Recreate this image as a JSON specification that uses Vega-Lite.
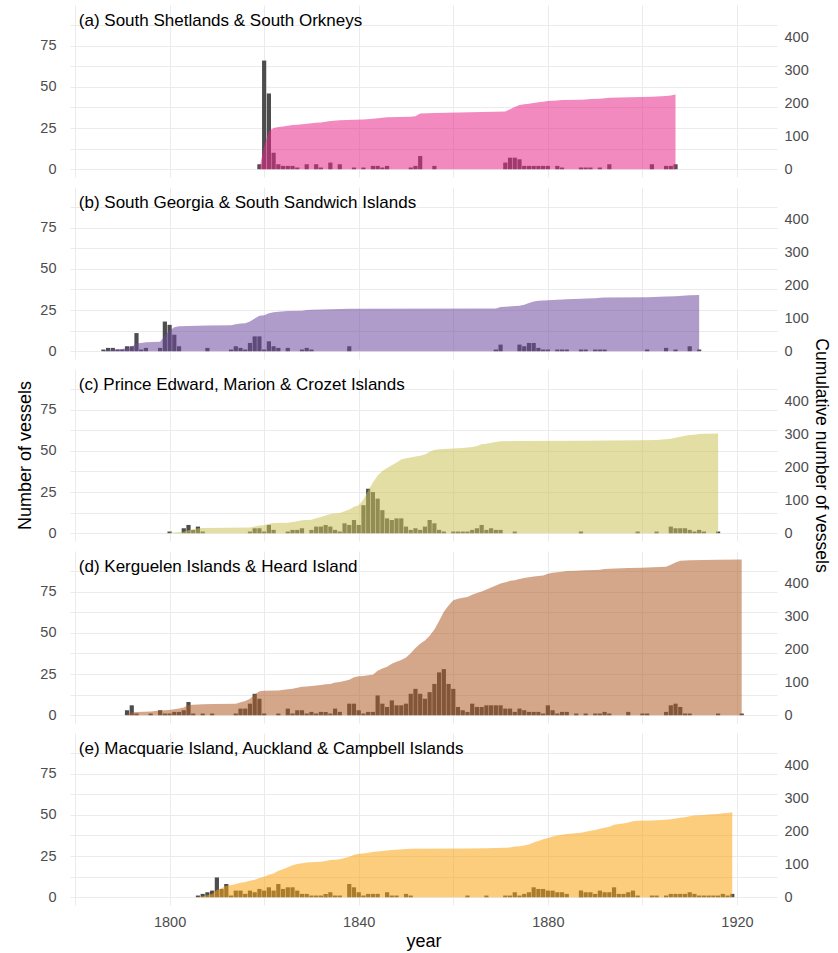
{
"$schema": "https://vega.github.io/schema/vega-lite/v6.json",
"background": "white",
"padding": {"left": 16, "top": 5, "right": 0, "bottom": 0},
"config": {
  "font": "Liberation Sans",
  "view": {"stroke": null},
  "axis": {"gridColor": "#EBEBEB", "gridWidth": 1, "domain": false, "ticks": false, "labelColor": "#4D4D4D", "labelFontSize": 14.5, "titleFontSize": 18, "titleFontWeight": "normal", "titleColor": "#000000", "labelOverlap": false, "labelFlush": false}
},
"datasets": {
"v": [
{"p":"a","year":1819,"n":3},{"p":"a","year":1820,"n":66},{"p":"a","year":1821,"n":46},{"p":"a","year":1822,"n":10},{"p":"a","year":1823,"n":3},{"p":"a","year":1824,"n":2},{"p":"a","year":1825,"n":2},{"p":"a","year":1826,"n":2},{"p":"a","year":1827,"n":1},{"p":"a","year":1829,"n":3},{"p":"a","year":1831,"n":3},{"p":"a","year":1832,"n":1},{"p":"a","year":1834,"n":4},{"p":"a","year":1836,"n":3},{"p":"a","year":1839,"n":1},{"p":"a","year":1841,"n":1},{"p":"a","year":1843,"n":2},{"p":"a","year":1844,"n":2},{"p":"a","year":1845,"n":1},{"p":"a","year":1846,"n":2},{"p":"a","year":1851,"n":1},{"p":"a","year":1852,"n":2},{"p":"a","year":1853,"n":8},{"p":"a","year":1856,"n":2},{"p":"a","year":1871,"n":4},{"p":"a","year":1872,"n":7},{"p":"a","year":1873,"n":7},{"p":"a","year":1874,"n":6},{"p":"a","year":1875,"n":2},{"p":"a","year":1876,"n":2},{"p":"a","year":1877,"n":2},{"p":"a","year":1878,"n":2},{"p":"a","year":1879,"n":2},{"p":"a","year":1880,"n":2},{"p":"a","year":1882,"n":2},{"p":"a","year":1883,"n":1},{"p":"a","year":1887,"n":1},{"p":"a","year":1888,"n":1},{"p":"a","year":1889,"n":1},{"p":"a","year":1891,"n":1},{"p":"a","year":1893,"n":3},{"p":"a","year":1902,"n":3},{"p":"a","year":1905,"n":2},{"p":"a","year":1906,"n":2},{"p":"a","year":1907,"n":3},
{"p":"b","year":1786,"n":1},{"p":"b","year":1787,"n":2},{"p":"b","year":1788,"n":2},{"p":"b","year":1789,"n":1},{"p":"b","year":1790,"n":1},{"p":"b","year":1791,"n":3},{"p":"b","year":1792,"n":3},{"p":"b","year":1793,"n":11},{"p":"b","year":1794,"n":1},{"p":"b","year":1795,"n":2},{"p":"b","year":1798,"n":2},{"p":"b","year":1799,"n":18},{"p":"b","year":1800,"n":16},{"p":"b","year":1801,"n":10},{"p":"b","year":1802,"n":3},{"p":"b","year":1808,"n":2},{"p":"b","year":1813,"n":1},{"p":"b","year":1814,"n":3},{"p":"b","year":1815,"n":2},{"p":"b","year":1816,"n":1},{"p":"b","year":1817,"n":5},{"p":"b","year":1818,"n":9},{"p":"b","year":1819,"n":9},{"p":"b","year":1820,"n":1},{"p":"b","year":1821,"n":6},{"p":"b","year":1822,"n":3},{"p":"b","year":1823,"n":2},{"p":"b","year":1825,"n":2},{"p":"b","year":1828,"n":1},{"p":"b","year":1829,"n":2},{"p":"b","year":1830,"n":1},{"p":"b","year":1838,"n":3},{"p":"b","year":1869,"n":1},{"p":"b","year":1870,"n":4},{"p":"b","year":1874,"n":4},{"p":"b","year":1875,"n":3},{"p":"b","year":1876,"n":5},{"p":"b","year":1877,"n":5},{"p":"b","year":1878,"n":2},{"p":"b","year":1879,"n":1},{"p":"b","year":1880,"n":1},{"p":"b","year":1882,"n":1},{"p":"b","year":1883,"n":1},{"p":"b","year":1884,"n":1},{"p":"b","year":1887,"n":1},{"p":"b","year":1888,"n":1},{"p":"b","year":1890,"n":1},{"p":"b","year":1891,"n":1},{"p":"b","year":1892,"n":1},{"p":"b","year":1901,"n":1},{"p":"b","year":1905,"n":2},{"p":"b","year":1907,"n":1},{"p":"b","year":1910,"n":3},{"p":"b","year":1912,"n":1},
{"p":"c","year":1800,"n":1},{"p":"c","year":1803,"n":3},{"p":"c","year":1804,"n":5},{"p":"c","year":1805,"n":2},{"p":"c","year":1806,"n":4},{"p":"c","year":1807,"n":1},{"p":"c","year":1817,"n":1},{"p":"c","year":1818,"n":3},{"p":"c","year":1819,"n":3},{"p":"c","year":1820,"n":1},{"p":"c","year":1821,"n":5},{"p":"c","year":1822,"n":2},{"p":"c","year":1825,"n":1},{"p":"c","year":1826,"n":2},{"p":"c","year":1827,"n":2},{"p":"c","year":1828,"n":3},{"p":"c","year":1830,"n":2},{"p":"c","year":1831,"n":4},{"p":"c","year":1832,"n":4},{"p":"c","year":1833,"n":5},{"p":"c","year":1834,"n":4},{"p":"c","year":1835,"n":2},{"p":"c","year":1836,"n":1},{"p":"c","year":1837,"n":6},{"p":"c","year":1838,"n":5},{"p":"c","year":1839,"n":8},{"p":"c","year":1840,"n":5},{"p":"c","year":1841,"n":17},{"p":"c","year":1842,"n":27},{"p":"c","year":1843,"n":25},{"p":"c","year":1844,"n":21},{"p":"c","year":1845,"n":14},{"p":"c","year":1846,"n":9},{"p":"c","year":1847,"n":8},{"p":"c","year":1848,"n":9},{"p":"c","year":1849,"n":9},{"p":"c","year":1850,"n":4},{"p":"c","year":1851,"n":2},{"p":"c","year":1852,"n":3},{"p":"c","year":1853,"n":2},{"p":"c","year":1854,"n":4},{"p":"c","year":1855,"n":8},{"p":"c","year":1856,"n":6},{"p":"c","year":1857,"n":2},{"p":"c","year":1858,"n":1},{"p":"c","year":1860,"n":1},{"p":"c","year":1861,"n":1},{"p":"c","year":1862,"n":1},{"p":"c","year":1863,"n":1},{"p":"c","year":1864,"n":2},{"p":"c","year":1865,"n":3},{"p":"c","year":1866,"n":5},{"p":"c","year":1867,"n":2},{"p":"c","year":1868,"n":3},{"p":"c","year":1869,"n":2},{"p":"c","year":1870,"n":2},{"p":"c","year":1873,"n":1},{"p":"c","year":1887,"n":1},{"p":"c","year":1899,"n":1},{"p":"c","year":1903,"n":1},{"p":"c","year":1906,"n":4},{"p":"c","year":1907,"n":3},{"p":"c","year":1908,"n":3},{"p":"c","year":1909,"n":3},{"p":"c","year":1910,"n":2},{"p":"c","year":1911,"n":1},{"p":"c","year":1912,"n":2},{"p":"c","year":1913,"n":1},{"p":"c","year":1916,"n":1},
{"p":"d","year":1791,"n":3},{"p":"d","year":1792,"n":6},{"p":"d","year":1793,"n":1},{"p":"d","year":1796,"n":1},{"p":"d","year":1798,"n":3},{"p":"d","year":1799,"n":1},{"p":"d","year":1800,"n":1},{"p":"d","year":1801,"n":2},{"p":"d","year":1802,"n":2},{"p":"d","year":1803,"n":3},{"p":"d","year":1804,"n":8},{"p":"d","year":1805,"n":1},{"p":"d","year":1807,"n":1},{"p":"d","year":1809,"n":1},{"p":"d","year":1814,"n":1},{"p":"d","year":1815,"n":4},{"p":"d","year":1816,"n":4},{"p":"d","year":1817,"n":7},{"p":"d","year":1818,"n":13},{"p":"d","year":1819,"n":10},{"p":"d","year":1820,"n":1},{"p":"d","year":1823,"n":1},{"p":"d","year":1825,"n":4},{"p":"d","year":1826,"n":1},{"p":"d","year":1827,"n":3},{"p":"d","year":1828,"n":3},{"p":"d","year":1829,"n":1},{"p":"d","year":1830,"n":2},{"p":"d","year":1831,"n":1},{"p":"d","year":1832,"n":2},{"p":"d","year":1833,"n":2},{"p":"d","year":1834,"n":1},{"p":"d","year":1835,"n":4},{"p":"d","year":1836,"n":2},{"p":"d","year":1838,"n":7},{"p":"d","year":1839,"n":7},{"p":"d","year":1840,"n":3},{"p":"d","year":1841,"n":1},{"p":"d","year":1842,"n":2},{"p":"d","year":1843,"n":2},{"p":"d","year":1844,"n":12},{"p":"d","year":1845,"n":7},{"p":"d","year":1846,"n":5},{"p":"d","year":1847,"n":9},{"p":"d","year":1848,"n":6},{"p":"d","year":1849,"n":6},{"p":"d","year":1850,"n":7},{"p":"d","year":1851,"n":13},{"p":"d","year":1852,"n":16},{"p":"d","year":1853,"n":13},{"p":"d","year":1854,"n":10},{"p":"d","year":1855,"n":14},{"p":"d","year":1856,"n":19},{"p":"d","year":1857,"n":26},{"p":"d","year":1858,"n":28},{"p":"d","year":1859,"n":19},{"p":"d","year":1860,"n":16},{"p":"d","year":1861,"n":5},{"p":"d","year":1862,"n":3},{"p":"d","year":1863,"n":2},{"p":"d","year":1864,"n":7},{"p":"d","year":1865,"n":5},{"p":"d","year":1866,"n":5},{"p":"d","year":1867,"n":6},{"p":"d","year":1868,"n":6},{"p":"d","year":1869,"n":6},{"p":"d","year":1870,"n":6},{"p":"d","year":1871,"n":4},{"p":"d","year":1872,"n":4},{"p":"d","year":1873,"n":2},{"p":"d","year":1874,"n":4},{"p":"d","year":1875,"n":3},{"p":"d","year":1876,"n":2},{"p":"d","year":1877,"n":2},{"p":"d","year":1878,"n":2},{"p":"d","year":1879,"n":1},{"p":"d","year":1880,"n":6},{"p":"d","year":1881,"n":3},{"p":"d","year":1882,"n":1},{"p":"d","year":1883,"n":2},{"p":"d","year":1884,"n":2},{"p":"d","year":1886,"n":1},{"p":"d","year":1888,"n":1},{"p":"d","year":1890,"n":1},{"p":"d","year":1891,"n":1},{"p":"d","year":1892,"n":2},{"p":"d","year":1893,"n":1},{"p":"d","year":1897,"n":2},{"p":"d","year":1900,"n":1},{"p":"d","year":1901,"n":1},{"p":"d","year":1905,"n":2},{"p":"d","year":1906,"n":6},{"p":"d","year":1907,"n":7},{"p":"d","year":1908,"n":5},{"p":"d","year":1909,"n":1},{"p":"d","year":1910,"n":1},{"p":"d","year":1916,"n":1},{"p":"d","year":1921,"n":1},
{"p":"e","year":1806,"n":1},{"p":"e","year":1807,"n":2},{"p":"e","year":1808,"n":3},{"p":"e","year":1809,"n":4},{"p":"e","year":1810,"n":12},{"p":"e","year":1811,"n":5},{"p":"e","year":1812,"n":8},{"p":"e","year":1813,"n":1},{"p":"e","year":1814,"n":4},{"p":"e","year":1815,"n":4},{"p":"e","year":1816,"n":2},{"p":"e","year":1817,"n":4},{"p":"e","year":1818,"n":3},{"p":"e","year":1819,"n":5},{"p":"e","year":1820,"n":4},{"p":"e","year":1821,"n":6},{"p":"e","year":1822,"n":4},{"p":"e","year":1823,"n":8},{"p":"e","year":1824,"n":5},{"p":"e","year":1825,"n":6},{"p":"e","year":1826,"n":6},{"p":"e","year":1827,"n":4},{"p":"e","year":1828,"n":2},{"p":"e","year":1829,"n":2},{"p":"e","year":1830,"n":1},{"p":"e","year":1831,"n":1},{"p":"e","year":1832,"n":1},{"p":"e","year":1833,"n":2},{"p":"e","year":1834,"n":3},{"p":"e","year":1835,"n":1},{"p":"e","year":1836,"n":1},{"p":"e","year":1838,"n":8},{"p":"e","year":1839,"n":6},{"p":"e","year":1840,"n":3},{"p":"e","year":1841,"n":1},{"p":"e","year":1842,"n":2},{"p":"e","year":1843,"n":2},{"p":"e","year":1844,"n":2},{"p":"e","year":1846,"n":3},{"p":"e","year":1847,"n":1},{"p":"e","year":1848,"n":1},{"p":"e","year":1850,"n":2},{"p":"e","year":1851,"n":1},{"p":"e","year":1863,"n":1},{"p":"e","year":1867,"n":1},{"p":"e","year":1871,"n":1},{"p":"e","year":1872,"n":1},{"p":"e","year":1873,"n":3},{"p":"e","year":1874,"n":1},{"p":"e","year":1875,"n":2},{"p":"e","year":1876,"n":3},{"p":"e","year":1877,"n":6},{"p":"e","year":1878,"n":5},{"p":"e","year":1879,"n":5},{"p":"e","year":1880,"n":4},{"p":"e","year":1881,"n":4},{"p":"e","year":1882,"n":3},{"p":"e","year":1883,"n":3},{"p":"e","year":1884,"n":2},{"p":"e","year":1887,"n":4},{"p":"e","year":1888,"n":3},{"p":"e","year":1889,"n":3},{"p":"e","year":1890,"n":2},{"p":"e","year":1891,"n":4},{"p":"e","year":1892,"n":3},{"p":"e","year":1893,"n":3},{"p":"e","year":1894,"n":6},{"p":"e","year":1895,"n":2},{"p":"e","year":1896,"n":2},{"p":"e","year":1897,"n":3},{"p":"e","year":1898,"n":4},{"p":"e","year":1899,"n":1},{"p":"e","year":1902,"n":1},{"p":"e","year":1903,"n":1},{"p":"e","year":1905,"n":1},{"p":"e","year":1906,"n":2},{"p":"e","year":1907,"n":2},{"p":"e","year":1908,"n":2},{"p":"e","year":1909,"n":2},{"p":"e","year":1910,"n":3},{"p":"e","year":1911,"n":2},{"p":"e","year":1912,"n":1},{"p":"e","year":1913,"n":1},{"p":"e","year":1914,"n":1},{"p":"e","year":1915,"n":1},{"p":"e","year":1916,"n":1},{"p":"e","year":1917,"n":2},{"p":"e","year":1918,"n":1},{"p":"e","year":1919,"n":2}
],
"titles": [
{"p":"a","label":"(a) South Shetlands & South Orkneys"},
{"p":"b","label":"(b) South Georgia & South Sandwich Islands"},
{"p":"c","label":"(c) Prince Edward, Marion & Crozet Islands"},
{"p":"d","label":"(d) Kerguelen Islands & Heard Island"},
{"p":"e","label":"(e) Macquarie Island, Auckland & Campbell Islands"}
]
},
"bounds": "flush",
"spacing": 10,
"vconcat": [
{
 "width": 707, "height": 172,
 "layer": [
  {"data": {"name": "v"},
   "transform": [{"filter": "datum.p == 'a'"}],
   "mark": {"type": "bar", "width": 4.2, "color": "#4D4D4D"},
   "encoding": {
    "x": {"field": "year", "type": "quantitative", "scale": {"domain": [1778.94, 1928.46], "nice": false, "zero": false, "padding": 0}, "axis": {"values": [1780,1800,1820,1840,1860,1880,1900,1920], "labels": false, "title": null}},
    "y": {"field": "n", "type": "quantitative", "scale": {"domain": [-4.75, 99.75], "nice": false, "zero": false}, "axis": {"values": [0,12.5,25,37.5,50,62.5,75,87.5], "format": "d", "labelExpr": "datum.value % 25 == 0 ? datum.label : ''", "labelPadding": 14, "title": null}},
    "y2": {"datum": 0}}},
  {"data": {"name": "v"},
   "transform": [{"filter": "datum.p == 'a'"}, {"window": [{"op": "sum", "field": "n", "as": "cum"}], "sort": [{"field": "year"}], "frame": [null, 0]}],
   "mark": {"type": "area", "color": "#E7298A", "opacity": 0.55, "interpolate": "linear"},
   "encoding": {
    "x": {"field": "year", "type": "quantitative"},
    "y": {"field": "cum", "type": "quantitative", "scale": {"domain": [-23.75, 498.75], "nice": false, "zero": false}, "axis": {"orient": "right", "values": [0,100,200,300,400], "format": "d", "grid": false, "labelPadding": 7, "title": null}},
    "y2": {"datum": 0}}},
  {"data": {"name": "titles"},
   "transform": [{"filter": "datum.p == 'a'"}],
   "mark": {"type": "text", "align": "left", "baseline": "alphabetic", "fontSize": 17, "color": "#000000"},
   "encoding": {
    "x": {"datum": 1780.8, "type": "quantitative"},
    "y": {"datum": 87, "type": "quantitative", "scale": {"domain": [-4.75, 99.75], "nice": false, "zero": false}, "axis": null},
    "text": {"field": "label"}}}
 ],
 "resolve": {"scale": {"y": "independent"}}
},
{
 "width": 707, "height": 172,
 "layer": [
  {"data": {"name": "v"},
   "transform": [{"filter": "datum.p == 'b'"}],
   "mark": {"type": "bar", "width": 4.2, "color": "#4D4D4D"},
   "encoding": {
    "x": {"field": "year", "type": "quantitative", "scale": {"domain": [1778.94, 1928.46], "nice": false, "zero": false, "padding": 0}, "axis": {"values": [1780,1800,1820,1840,1860,1880,1900,1920], "labels": false, "title": null}},
    "y": {"field": "n", "type": "quantitative", "scale": {"domain": [-4.75, 99.75], "nice": false, "zero": false}, "axis": {"values": [0,12.5,25,37.5,50,62.5,75,87.5], "format": "d", "labelExpr": "datum.value % 25 == 0 ? datum.label : ''", "labelPadding": 14, "title": null}},
    "y2": {"datum": 0}}},
  {"data": {"name": "v"},
   "transform": [{"filter": "datum.p == 'b'"}, {"window": [{"op": "sum", "field": "n", "as": "cum"}], "sort": [{"field": "year"}], "frame": [null, 0]}],
   "mark": {"type": "area", "color": "#6F4A9E", "opacity": 0.55, "interpolate": "linear"},
   "encoding": {
    "x": {"field": "year", "type": "quantitative"},
    "y": {"field": "cum", "type": "quantitative", "scale": {"domain": [-23.75, 498.75], "nice": false, "zero": false}, "axis": {"orient": "right", "values": [0,100,200,300,400], "format": "d", "grid": false, "labelPadding": 7, "title": null}},
    "y2": {"datum": 0}}},
  {"data": {"name": "titles"},
   "transform": [{"filter": "datum.p == 'b'"}],
   "mark": {"type": "text", "align": "left", "baseline": "alphabetic", "fontSize": 17, "color": "#000000"},
   "encoding": {
    "x": {"datum": 1780.8, "type": "quantitative"},
    "y": {"datum": 87, "type": "quantitative", "scale": {"domain": [-4.75, 99.75], "nice": false, "zero": false}, "axis": null},
    "text": {"field": "label"}}}
 ],
 "resolve": {"scale": {"y": "independent"}}
},
{
 "width": 707, "height": 172,
 "layer": [
  {"data": {"name": "v"},
   "transform": [{"filter": "datum.p == 'c'"}],
   "mark": {"type": "bar", "width": 4.2, "color": "#4D4D4D"},
   "encoding": {
    "x": {"field": "year", "type": "quantitative", "scale": {"domain": [1778.94, 1928.46], "nice": false, "zero": false, "padding": 0}, "axis": {"values": [1780,1800,1820,1840,1860,1880,1900,1920], "labels": false, "title": null}},
    "y": {"field": "n", "type": "quantitative", "scale": {"domain": [-4.75, 99.75], "nice": false, "zero": false}, "axis": {"values": [0,12.5,25,37.5,50,62.5,75,87.5], "format": "d", "labelExpr": "datum.value % 25 == 0 ? datum.label : ''", "labelPadding": 14, "title": "Number of vessels", "titlePadding": 5}},
    "y2": {"datum": 0}}},
  {"data": {"name": "v"},
   "transform": [{"filter": "datum.p == 'c'"}, {"window": [{"op": "sum", "field": "n", "as": "cum"}], "sort": [{"field": "year"}], "frame": [null, 0]}],
   "mark": {"type": "area", "color": "#CCC55A", "opacity": 0.55, "interpolate": "linear"},
   "encoding": {
    "x": {"field": "year", "type": "quantitative"},
    "y": {"field": "cum", "type": "quantitative", "scale": {"domain": [-23.75, 498.75], "nice": false, "zero": false}, "axis": {"orient": "right", "values": [0,100,200,300,400], "format": "d", "grid": false, "labelPadding": 7, "title": "Cumulative number of vessels", "titlePadding": 3, "titleFontSize": 17.5}},
    "y2": {"datum": 0}}},
  {"data": {"name": "titles"},
   "transform": [{"filter": "datum.p == 'c'"}],
   "mark": {"type": "text", "align": "left", "baseline": "alphabetic", "fontSize": 17, "color": "#000000"},
   "encoding": {
    "x": {"datum": 1780.8, "type": "quantitative"},
    "y": {"datum": 87, "type": "quantitative", "scale": {"domain": [-4.75, 99.75], "nice": false, "zero": false}, "axis": null},
    "text": {"field": "label"}}}
 ],
 "resolve": {"scale": {"y": "independent"}}
},
{
 "width": 707, "height": 172,
 "layer": [
  {"data": {"name": "v"},
   "transform": [{"filter": "datum.p == 'd'"}],
   "mark": {"type": "bar", "width": 4.2, "color": "#4D4D4D"},
   "encoding": {
    "x": {"field": "year", "type": "quantitative", "scale": {"domain": [1778.94, 1928.46], "nice": false, "zero": false, "padding": 0}, "axis": {"values": [1780,1800,1820,1840,1860,1880,1900,1920], "labels": false, "title": null}},
    "y": {"field": "n", "type": "quantitative", "scale": {"domain": [-4.75, 99.75], "nice": false, "zero": false}, "axis": {"values": [0,12.5,25,37.5,50,62.5,75,87.5], "format": "d", "labelExpr": "datum.value % 25 == 0 ? datum.label : ''", "labelPadding": 14, "title": null}},
    "y2": {"datum": 0}}},
  {"data": {"name": "v"},
   "transform": [{"filter": "datum.p == 'd'"}, {"window": [{"op": "sum", "field": "n", "as": "cum"}], "sort": [{"field": "year"}], "frame": [null, 0]}],
   "mark": {"type": "area", "color": "#B15F2C", "opacity": 0.55, "interpolate": "linear"},
   "encoding": {
    "x": {"field": "year", "type": "quantitative"},
    "y": {"field": "cum", "type": "quantitative", "scale": {"domain": [-23.75, 498.75], "nice": false, "zero": false}, "axis": {"orient": "right", "values": [0,100,200,300,400], "format": "d", "grid": false, "labelPadding": 7, "title": null}},
    "y2": {"datum": 0}}},
  {"data": {"name": "titles"},
   "transform": [{"filter": "datum.p == 'd'"}],
   "mark": {"type": "text", "align": "left", "baseline": "alphabetic", "fontSize": 17, "color": "#000000"},
   "encoding": {
    "x": {"datum": 1780.8, "type": "quantitative"},
    "y": {"datum": 87, "type": "quantitative", "scale": {"domain": [-4.75, 99.75], "nice": false, "zero": false}, "axis": null},
    "text": {"field": "label"}}}
 ],
 "resolve": {"scale": {"y": "independent"}}
},
{
 "width": 707, "height": 172,
 "layer": [
  {"data": {"name": "v"},
   "transform": [{"filter": "datum.p == 'e'"}],
   "mark": {"type": "bar", "width": 4.2, "color": "#4D4D4D"},
   "encoding": {
    "x": {"field": "year", "type": "quantitative", "scale": {"domain": [1778.94, 1928.46], "nice": false, "zero": false, "padding": 0}, "axis": {"values": [1780,1800,1820,1840,1860,1880,1900,1920], "format": "d", "labelExpr": "datum.value % 40 == 0 ? datum.label : ''", "labelPadding": 10, "title": "year", "titlePadding": 4}},
    "y": {"field": "n", "type": "quantitative", "scale": {"domain": [-4.75, 99.75], "nice": false, "zero": false}, "axis": {"values": [0,12.5,25,37.5,50,62.5,75,87.5], "format": "d", "labelExpr": "datum.value % 25 == 0 ? datum.label : ''", "labelPadding": 14, "title": null}},
    "y2": {"datum": 0}}},
  {"data": {"name": "v"},
   "transform": [{"filter": "datum.p == 'e'"}, {"window": [{"op": "sum", "field": "n", "as": "cum"}], "sort": [{"field": "year"}], "frame": [null, 0]}],
   "mark": {"type": "area", "color": "#FAA411", "opacity": 0.55, "interpolate": "linear"},
   "encoding": {
    "x": {"field": "year", "type": "quantitative"},
    "y": {"field": "cum", "type": "quantitative", "scale": {"domain": [-23.75, 498.75], "nice": false, "zero": false}, "axis": {"orient": "right", "values": [0,100,200,300,400], "format": "d", "grid": false, "labelPadding": 7, "title": null}},
    "y2": {"datum": 0}}},
  {"data": {"name": "titles"},
   "transform": [{"filter": "datum.p == 'e'"}],
   "mark": {"type": "text", "align": "left", "baseline": "alphabetic", "fontSize": 17, "color": "#000000"},
   "encoding": {
    "x": {"datum": 1780.8, "type": "quantitative"},
    "y": {"datum": 87, "type": "quantitative", "scale": {"domain": [-4.75, 99.75], "nice": false, "zero": false}, "axis": null},
    "text": {"field": "label"}}}
 ],
 "resolve": {"scale": {"y": "independent"}}
}
]
}
